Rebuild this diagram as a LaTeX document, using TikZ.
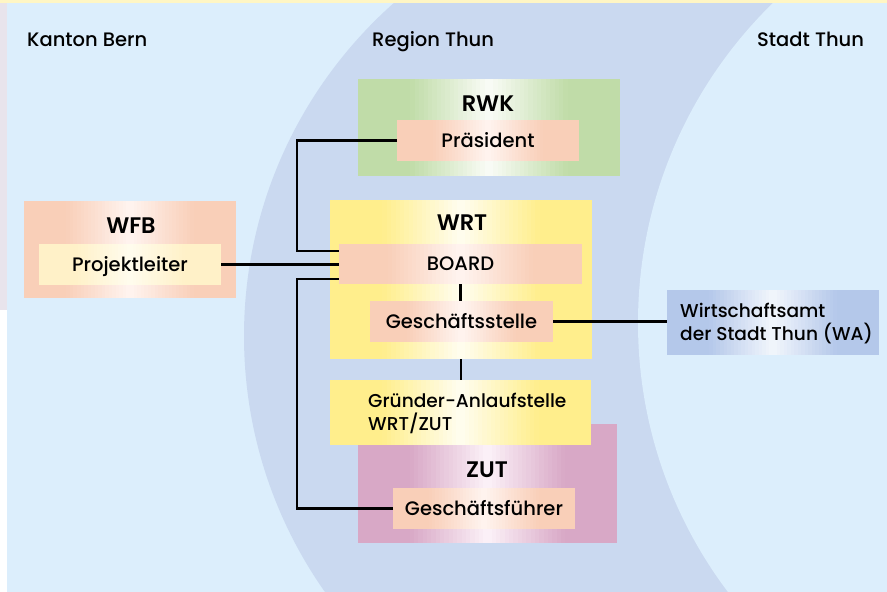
\documentclass[tikz,border=0pt]{standalone}
\usepackage{fontspec}
\setmainfont{Poppins}[UprightFont=* Medium, BoldFont=* SemiBold]
\usetikzlibrary{calc}
\definecolor{bglight}{RGB}{220,238,252}
\definecolor{bgband}{RGB}{202,217,240}
\definecolor{cgreen}{RGB}{192,220,168}
\definecolor{cgreenc}{RGB}{250,252,247}
\definecolor{csalmon}{RGB}{249,207,184}
\definecolor{csalmonc}{RGB}{255,244,240}
\definecolor{cyellow}{RGB}{255,238,140}
\definecolor{cyellowc}{RGB}{255,253,240}
\definecolor{cmauve}{RGB}{216,168,198}
\definecolor{cmauvec}{RGB}{252,242,248}
\definecolor{ccream}{RGB}{255,241,200}
\definecolor{ccreamc}{RGB}{255,252,238}
\definecolor{cblue}{RGB}{180,200,234}
\definecolor{cbluec}{RGB}{242,246,252}
\definecolor{stripgrey}{RGB}{232,228,236}
\definecolor{stripyellow}{RGB}{255,246,196}
\tikzset{
  conn/.style={draw=black, line width=2.2pt},
  bx/.style={inner sep=0pt, outer sep=0pt},
  grad/.style 2 args={path picture={
    \path (path picture bounding box.south west) coordinate (pA)
          (path picture bounding box.north east) coordinate (pB);
    \foreach \i in {0,...,59}{
      \pgfmathsetmacro{\u}{abs((\i+0.5)/60-0.5)*2}
      \pgfmathsetmacro{\p}{min(100,100*\u/0.6)}
      \fill[#1!\p!#2] ($(pA)!{\i/60}!(pA -| pB)$) rectangle ($(pB -| pA)!{(\i+1.1)/60}!(pB)$);
    }
  }},
  greensh/.style={grad={cgreen}{cgreenc}},
  salmonsh/.style={grad={csalmon}{csalmonc}},
  yellowsh/.style={grad={cyellow}{cyellowc}},
  mauvesh/.style={grad={cmauve}{cmauvec}},
  creamsh/.style={grad={ccream}{ccreamc}},
  bluesh/.style={grad={cblue}{cbluec}},
  lab/.style={font=\fontsize{19.5}{23}\selectfont, text=black, text height=13.6pt, text depth=0pt},
  ttl/.style={font=\bfseries\fontsize{22.5}{26}\selectfont, text=black, inner sep=0pt},
  twoline/.style={font=\fontsize{18.6}{22.5}\selectfont, text=black, align=left, inner sep=0pt},
  region/.style={font=\fontsize{19.5}{23}\selectfont, text=black, inner sep=0pt, anchor=base west}
}
\begin{document}
\begin{tikzpicture}[x=1pt,y=-1pt]
\useasboundingbox (0,0) rectangle (887,592);
% background
\fill[white] (0,0) rectangle (887,592);
\fill[stripyellow] (0,0) rectangle (887,3);
\fill[stripgrey] (0,3) rectangle (7,310);
\begin{scope}
  \clip (7,3) rectangle (887,592);
  \fill[bglight] (7,3) rectangle (887,592);
  \fill[bgband] (689,336) circle[radius=445pt];
  \fill[bglight] (1085,323) circle[radius=447pt];
\end{scope}
% region titles
\node[region] (kanton) at (27,46) {Kanton Bern};
\node[region] (region) at (372,46) {Region Thun};
\node[region] (stadt) at (757,46) {Stadt Thun};
% RWK
\node[bx, greensh, minimum width=262pt, minimum height=97pt] (rwk) at (489,127.5) {};
\node[ttl] (rwkt) at (488,104) {RWK};
\node[bx, lab, salmonsh, minimum width=182pt, minimum height=41pt] (praes) at (488,140.5) {Präsident};
% WFB
\node[bx, salmonsh, minimum width=212pt, minimum height=97pt] (wfb) at (130,249.5) {};
\node[ttl] (wfbt) at (131,226) {WFB};
\node[bx, lab, creamsh, minimum width=182pt, minimum height=41pt] (proj) at (130,264.5) {Projektleiter};
% WRT
\node[bx, yellowsh, minimum width=262pt, minimum height=159pt] (wrt) at (461,279.5) {};
\node[ttl] (wrtt) at (462,223) {WRT};
\node[bx, lab, salmonsh, minimum width=243pt, minimum height=40pt] (board) at (460.5,264) {BOARD};
\node[bx, lab, salmonsh, minimum width=183pt, minimum height=41pt] (gs) at (461.5,321.5) {Geschäftsstelle};
% ZUT (behind Gruender box)
\node[bx, mauvesh, minimum width=259pt, minimum height=119pt] (zut) at (487.5,483.5) {};
\node[ttl] (zutt) at (487,470) {ZUT};
\node[bx, lab, salmonsh, minimum width=182pt, minimum height=41pt] (gf) at (484,508.5) {Geschäftsführer};
% Gruender
\node[bx, yellowsh, minimum width=261pt, minimum height=65pt] (gruender) at (460.5,412.5) {};
\node[twoline, anchor=west] (gruendert) at ([xshift=38pt,yshift=-1pt]gruender.west) {Gründer-Anlaufstelle\\WRT/ZUT};
% WA
\node[bx, bluesh, minimum width=212pt, minimum height=65pt] (wa) at (773,322.5) {};
\node[twoline, anchor=west] (wat) at ([xshift=13pt,yshift=-1pt]wa.west) {Wirtschaftsamt\\der Stadt Thun (WA)};
% connectors
\coordinate (jx) at (297,0);
\draw[conn] (praes.west) -| ([yshift=13pt]board.west -| jx) -- ([yshift=13pt]board.west);
\draw[conn] (gf.west) -| ([yshift=-15pt]board.west -| jx) -- ([yshift=-15pt]board.west);
\draw[conn] (proj.east) -- (proj.east -| board.west);
\draw[conn] (board.south) -- (board.south |- gs.north);
\draw[conn] (wrt.south) -- (wrt.south |- gruender.north);
\draw[conn] (gs.east) -- (gs.east -| wa.west);
\end{tikzpicture}
\end{document}
